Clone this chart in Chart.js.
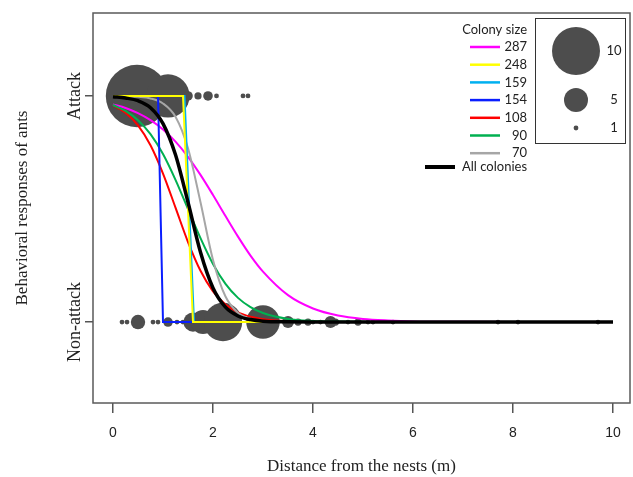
<!DOCTYPE html>
<html>
<head>
<meta charset="utf-8">
<script src="https://cdn.jsdelivr.net/npm/chart.js@4.4.1/dist/chart.umd.min.js"></script>
<style>
  html, body { margin: 0; padding: 0; background: #fff; }
  #wrap { width: 633px; height: 477px; }
</style>
</head>
<body>
<div id="wrap"><canvas id="chart" width="633" height="477"></canvas></div>
<script>
// axis ticks
const xTicks = [0, 2, 4, 6, 8, 10];
const yTickLabels = ['Non-attack', 'Attack'];

// colony legend
const colonySizes = ['287', '248', '159', '154', '108', '90', '70'];
const colonyColors = ['#ff00ff', '#ffff00', '#00b0f0', '#0a1eff', '#ff0000', '#00b050', '#a6a6a6'];

// fitted curves at these distances
const curveX = [0, 0.25, 0.5, 0.75, 1, 1.25, 1.5, 1.75, 2, 2.25, 2.5, 2.75, 3, 3.5, 4, 4.5, 5, 5.5, 6, 7, 8, 9, 10];
const curve287 = [0.963, 0.947, 0.924, 0.893, 0.852, 0.798, 0.731, 0.651, 0.562, 0.469, 0.378, 0.294, 0.223, 0.119, 0.060, 0.029, 0.014, 0.007, 0.003, 0.001, 0, 0, 0];
const curve108 = [0.959, 0.926, 0.870, 0.782, 0.657, 0.506, 0.354, 0.227, 0.136, 0.078, 0.043, 0.024, 0.013, 0.004, 0.001, 0, 0, 0, 0, 0, 0, 0, 0];
const curve90 = [0.960, 0.934, 0.893, 0.831, 0.743, 0.629, 0.500, 0.371, 0.257, 0.169, 0.107, 0.066, 0.040, 0.014, 0.005, 0.002, 0.001, 0, 0, 0, 0, 0, 0];
const curve70 = [1.0, 0.999, 0.996, 0.989, 0.967, 0.908, 0.769, 0.530, 0.275, 0.113, 0.041, 0.014, 0.005, 0.001, 0, 0, 0, 0, 0, 0, 0, 0, 0];
const curveAll = [0.997, 0.991, 0.979, 0.948, 0.878, 0.740, 0.530, 0.309, 0.151, 0.066, 0.027, 0.011, 0.004, 0.001, 0, 0, 0, 0, 0, 0, 0, 0, 0];

// step-like fits (colonies 248, 159, 154)
const step248X = [0, 1.4, 1.6, 10];
const step159X = [0, 1.43, 1.62, 10];
const step154X = [0, 0.9, 1.0, 10];
const stepY = [1, 1, 0, 0];

// observations: distance and number of ants
const attackX = [0.48, 1.1, 1.5, 1.7, 1.9, 2.07, 2.6, 2.7];
const attackN = [13, 9, 2, 1.5, 2, 1, 1, 1];
const nonAttackX = [0.18, 0.28, 0.5, 0.8, 0.9, 1.1, 1.28, 1.4, 1.6, 1.8, 2.2, 3.0, 3.5, 3.7, 3.9, 4.0, 4.15, 4.35, 4.45, 4.7, 4.9, 5.1, 5.2, 5.6, 7.7, 8.1, 9.7];
const nonAttackN = [1, 1, 3, 1, 1, 2, 1, 1, 4, 5, 8, 7, 2.5, 1.5, 1.5, 1, 1, 2.5, 1.5, 1, 1.5, 1, 1, 1, 1, 1, 1];
const bubbleLegendN = [10, 5, 1];

const BUBBLE = '#4d4d4d';
const radiusFor = n => n * 2.4;
const pts = (xs, ys) => xs.map((x, i) => ({ x: x, y: ys[i] }));
const bubbles = (xs, ns, y) => xs.map((x, i) => ({ x: x, y: y, r: radiusFor(ns[i]) }));

function curve(data, color, width, order, smooth) {
  return {
    type: 'line',
    data: data,
    borderColor: color,
    borderWidth: width,
    pointRadius: 0,
    fill: false,
    tension: 0,
    cubicInterpolationMode: smooth ? 'monotone' : 'default',
    order: order,
  };
}

const framePlugin = {
  id: 'frame',
  afterDraw(chart) {
    const { ctx, chartArea: a, scales } = chart;
    ctx.save();
    ctx.strokeStyle = '#5a5a5a';
    ctx.lineWidth = 1.5;
    ctx.strokeRect(a.left, a.top, a.right - a.left, a.bottom - a.top);

    // rotated y labels
    ctx.fillStyle = '#222';
    ctx.font = '18px "Liberation Serif"';
    ctx.textAlign = 'center';
    ctx.textBaseline = 'middle';
    yTickLabels.forEach((t, i) => {
      ctx.save();
      ctx.translate(75, scales.y.getPixelForValue(i));
      ctx.rotate(-Math.PI / 2);
      ctx.fillText(t, 0, 0);
      ctx.restore();
    });

    // colony size legend
    ctx.font = '13px Lato';
    ctx.textAlign = 'right';
    ctx.fillText('Colony size', 527, 30);
    colonySizes.forEach((s, i) => {
      const y = 47 + i * 17.7;
      ctx.strokeStyle = colonyColors[i];
      ctx.lineWidth = 2.5;
      ctx.beginPath(); ctx.moveTo(470, y); ctx.lineTo(500, y); ctx.stroke();
      ctx.fillText(s, 527, y);
    });
    ctx.strokeStyle = '#000';
    ctx.lineWidth = 4;
    ctx.beginPath(); ctx.moveTo(425, 167); ctx.lineTo(455, 167); ctx.stroke();
    ctx.textAlign = 'left';
    ctx.fillText('All colonies', 462, 167);

    // bubble size legend
    ctx.strokeStyle = '#333';
    ctx.lineWidth = 1;
    ctx.strokeRect(535.5, 18.5, 90, 125);
    const ly = [51, 100, 128];
    ctx.textAlign = 'center';
    bubbleLegendN.forEach((n, i) => {
      ctx.fillStyle = BUBBLE;
      ctx.beginPath(); ctx.arc(576, ly[i], radiusFor(n), 0, Math.PI * 2); ctx.fill();
      ctx.fillStyle = '#222';
      ctx.fillText(String(n), 614, ly[i]);
    });
    ctx.restore();
  }
};

new Chart(document.getElementById('chart'), {
  type: 'bubble',
  data: {
    datasets: [
      curve(pts(curveX, curveAll), '#000000', 3.5, 0, true),
      curve(pts(step248X, stepY), colonyColors[1], 2, 1, false),
      curve(pts(step159X, stepY), colonyColors[2], 2, 2, false),
      curve(pts(step154X, stepY), colonyColors[3], 2, 3, false),
      curve(pts(curveX, curve70), colonyColors[6], 2, 4, true),
      curve(pts(curveX, curve90), colonyColors[5], 2, 5, true),
      curve(pts(curveX, curve108), colonyColors[4], 2, 6, true),
      curve(pts(curveX, curve287), colonyColors[0], 2, 7, true),
      { type: 'bubble', data: bubbles(attackX, attackN, 1), backgroundColor: BUBBLE, borderWidth: 0, order: 8 },
      { type: 'bubble', data: bubbles(nonAttackX, nonAttackN, 0), backgroundColor: BUBBLE, borderWidth: 0, order: 9 },
    ],
  },
  options: {
    responsive: false,
    devicePixelRatio: 1,
    animation: false,
    clip: false,
    layout: { autoPadding: false, padding: { left: 0, right: 3, top: 13, bottom: 0 } },
    plugins: { legend: { display: false }, tooltip: { enabled: false } },
    scales: {
      x: {
        type: 'linear',
        min: -0.4,
        max: 10.34,
        afterBuildTicks: (s) => { s.ticks = xTicks.map(v => ({ value: v })); },
        afterFit: (s) => { s.height = 74; },
        border: { display: false },
        grid: { drawOnChartArea: false, drawTicks: true, tickLength: 10, color: '#555', lineWidth: 1.5 },
        ticks: { padding: 12, color: '#222', font: { family: 'Liberation Sans', size: 14 } },
        title: {
          display: true,
          text: 'Distance from the nests (m)',
          color: '#222',
          font: { family: 'Liberation Serif', size: 17 },
          padding: { top: 0, bottom: 0 },
        },
      },
      y: {
        type: 'linear',
        min: -0.358,
        max: 1.367,
        afterBuildTicks: (s) => { s.ticks = [0, 1].map(v => ({ value: v })); },
        afterFit: (s) => { s.width = 93; },
        border: { display: false },
        grid: { drawOnChartArea: false, drawTicks: true, tickLength: 8, color: '#555', lineWidth: 1.5 },
        ticks: { display: false },
        title: {
          display: true,
          text: 'Behavioral responses of ants',
          color: '#222',
          font: { family: 'Liberation Serif', size: 17 },
          padding: { top: 12, bottom: 0 },
        },
      },
    },
  },
  plugins: [framePlugin],
});
</script>
</body>
</html>
